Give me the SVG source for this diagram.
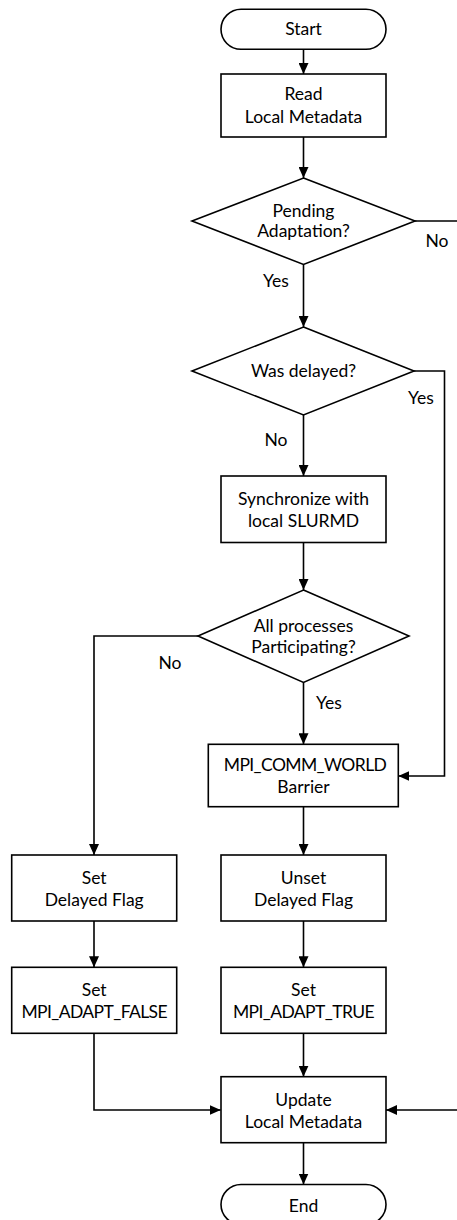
<svg xmlns="http://www.w3.org/2000/svg" width="457" height="1220" viewBox="0 0 457 1220">
  <defs>
    <marker id="arrow" markerUnits="userSpaceOnUse" markerWidth="11" markerHeight="10" refX="11" refY="5" orient="auto">
      <path d="M0,0 L11,5 L0,10 z" fill="#000"/>
    </marker>
    <style>
      .shape { fill: #fff; stroke: #000; stroke-width: 1.6; }
      .edge { fill: none; stroke: #000; stroke-width: 1.6; marker-end: url(#arrow); }
      text { font-family: Lato, "Liberation Sans", sans-serif; font-size: 17.5px; fill: #000; text-anchor: middle; }
      .caps { letter-spacing: -0.6px; }
    </style>
  </defs>
  <rect width="457" height="1220" fill="#fff"/>

  <!-- connectors -->
  <g id="connectors">
    <path class="edge" d="M303.5,49.3 V74"/>
    <path class="edge" d="M303.5,137 V178"/>
    <path class="edge" d="M303.5,264.5 V327"/>
    <path class="edge" d="M415,221 H460 V1110 H386"/>
    <path class="edge" d="M303.5,415 V476"/>
    <path class="edge" d="M414,371 H444.5 V776 H398.3"/>
    <path class="edge" d="M303.5,542.5 V590"/>
    <path class="edge" d="M303.5,682.5 V744.3"/>
    <path class="edge" d="M198,636 H94 V855"/>
    <path class="edge" d="M303.5,806.7 V855"/>
    <path class="edge" d="M94,921 V967.3"/>
    <path class="edge" d="M303.5,921 V967.3"/>
    <path class="edge" d="M94,1033.3 V1110 H220.7"/>
    <path class="edge" d="M303.5,1033.3 V1076.7"/>
    <path class="edge" d="M303.5,1142.7 V1184.5"/>
    <text x="437" y="247">No</text>
    <text x="276" y="287">Yes</text>
    <text x="421" y="404">Yes</text>
    <text x="276" y="446">No</text>
    <text x="170" y="668.5">No</text>
    <text x="329" y="709">Yes</text>
  </g>

  <g id="start">
    <rect class="shape" x="221" y="9.3" width="165" height="40" rx="20" ry="20"/>
    <text x="303.5" y="35">Start</text>
  </g>

  <g id="read-metadata">
    <rect class="shape" x="221" y="74" width="165" height="63"/>
    <text x="303.5" y="100">Read</text>
    <text x="303.5" y="122.7">Local Metadata</text>
  </g>

  <g id="pending-adaptation">
    <polygon class="shape" points="303.5,178 415,221 303.5,264.5 192,221"/>
    <text x="303.5" y="216.7">Pending</text>
    <text x="303.5" y="237.3">Adaptation?</text>
  </g>

  <g id="was-delayed">
    <polygon class="shape" points="303.5,327 414,371 303.5,415 192,371"/>
    <text x="303.5" y="377.3">Was delayed?</text>
  </g>

  <g id="synchronize">
    <rect class="shape" x="221" y="476" width="165" height="66.5"/>
    <text x="303.5" y="505">Synchronize with</text>
    <text x="303.5" y="526.7">local SLURMD</text>
  </g>

  <g id="all-participating">
    <polygon class="shape" points="303.5,590 409,636 303.5,682.5 198,636"/>
    <text x="303.5" y="631.7">All processes</text>
    <text x="303.5" y="653.3">Participating?</text>
  </g>

  <g id="barrier">
    <rect class="shape" x="208.3" y="744.3" width="190" height="62.4"/>
    <text class="caps" x="305" y="770.7">MPI_COMM_WORLD</text>
    <text x="303.5" y="793.3">Barrier</text>
  </g>

  <g id="set-delayed">
    <rect class="shape" x="11.7" y="855" width="165" height="66"/>
    <text x="94.2" y="884">Set</text>
    <text x="94.2" y="906">Delayed Flag</text>
  </g>

  <g id="unset-delayed">
    <rect class="shape" x="221" y="855" width="165" height="66"/>
    <text x="303.5" y="884">Unset</text>
    <text x="303.5" y="906">Delayed Flag</text>
  </g>

  <g id="adapt-false">
    <rect class="shape" x="11.7" y="967.3" width="165" height="66"/>
    <text x="94.2" y="996">Set</text>
    <text class="caps" x="94.2" y="1017.7">MPI_ADAPT_FALSE</text>
  </g>

  <g id="adapt-true">
    <rect class="shape" x="221" y="967.3" width="165" height="66"/>
    <text x="303.5" y="996">Set</text>
    <text class="caps" x="303.5" y="1017.7">MPI_ADAPT_TRUE</text>
  </g>

  <g id="update-metadata">
    <rect class="shape" x="221" y="1076.7" width="165" height="66"/>
    <text x="303.5" y="1105.7">Update</text>
    <text x="303.5" y="1127.7">Local Metadata</text>
  </g>

  <g id="end">
    <rect class="shape" x="221" y="1184.5" width="165" height="40" rx="20" ry="20"/>
    <text x="303.5" y="1211.7">End</text>
  </g>
</svg>
